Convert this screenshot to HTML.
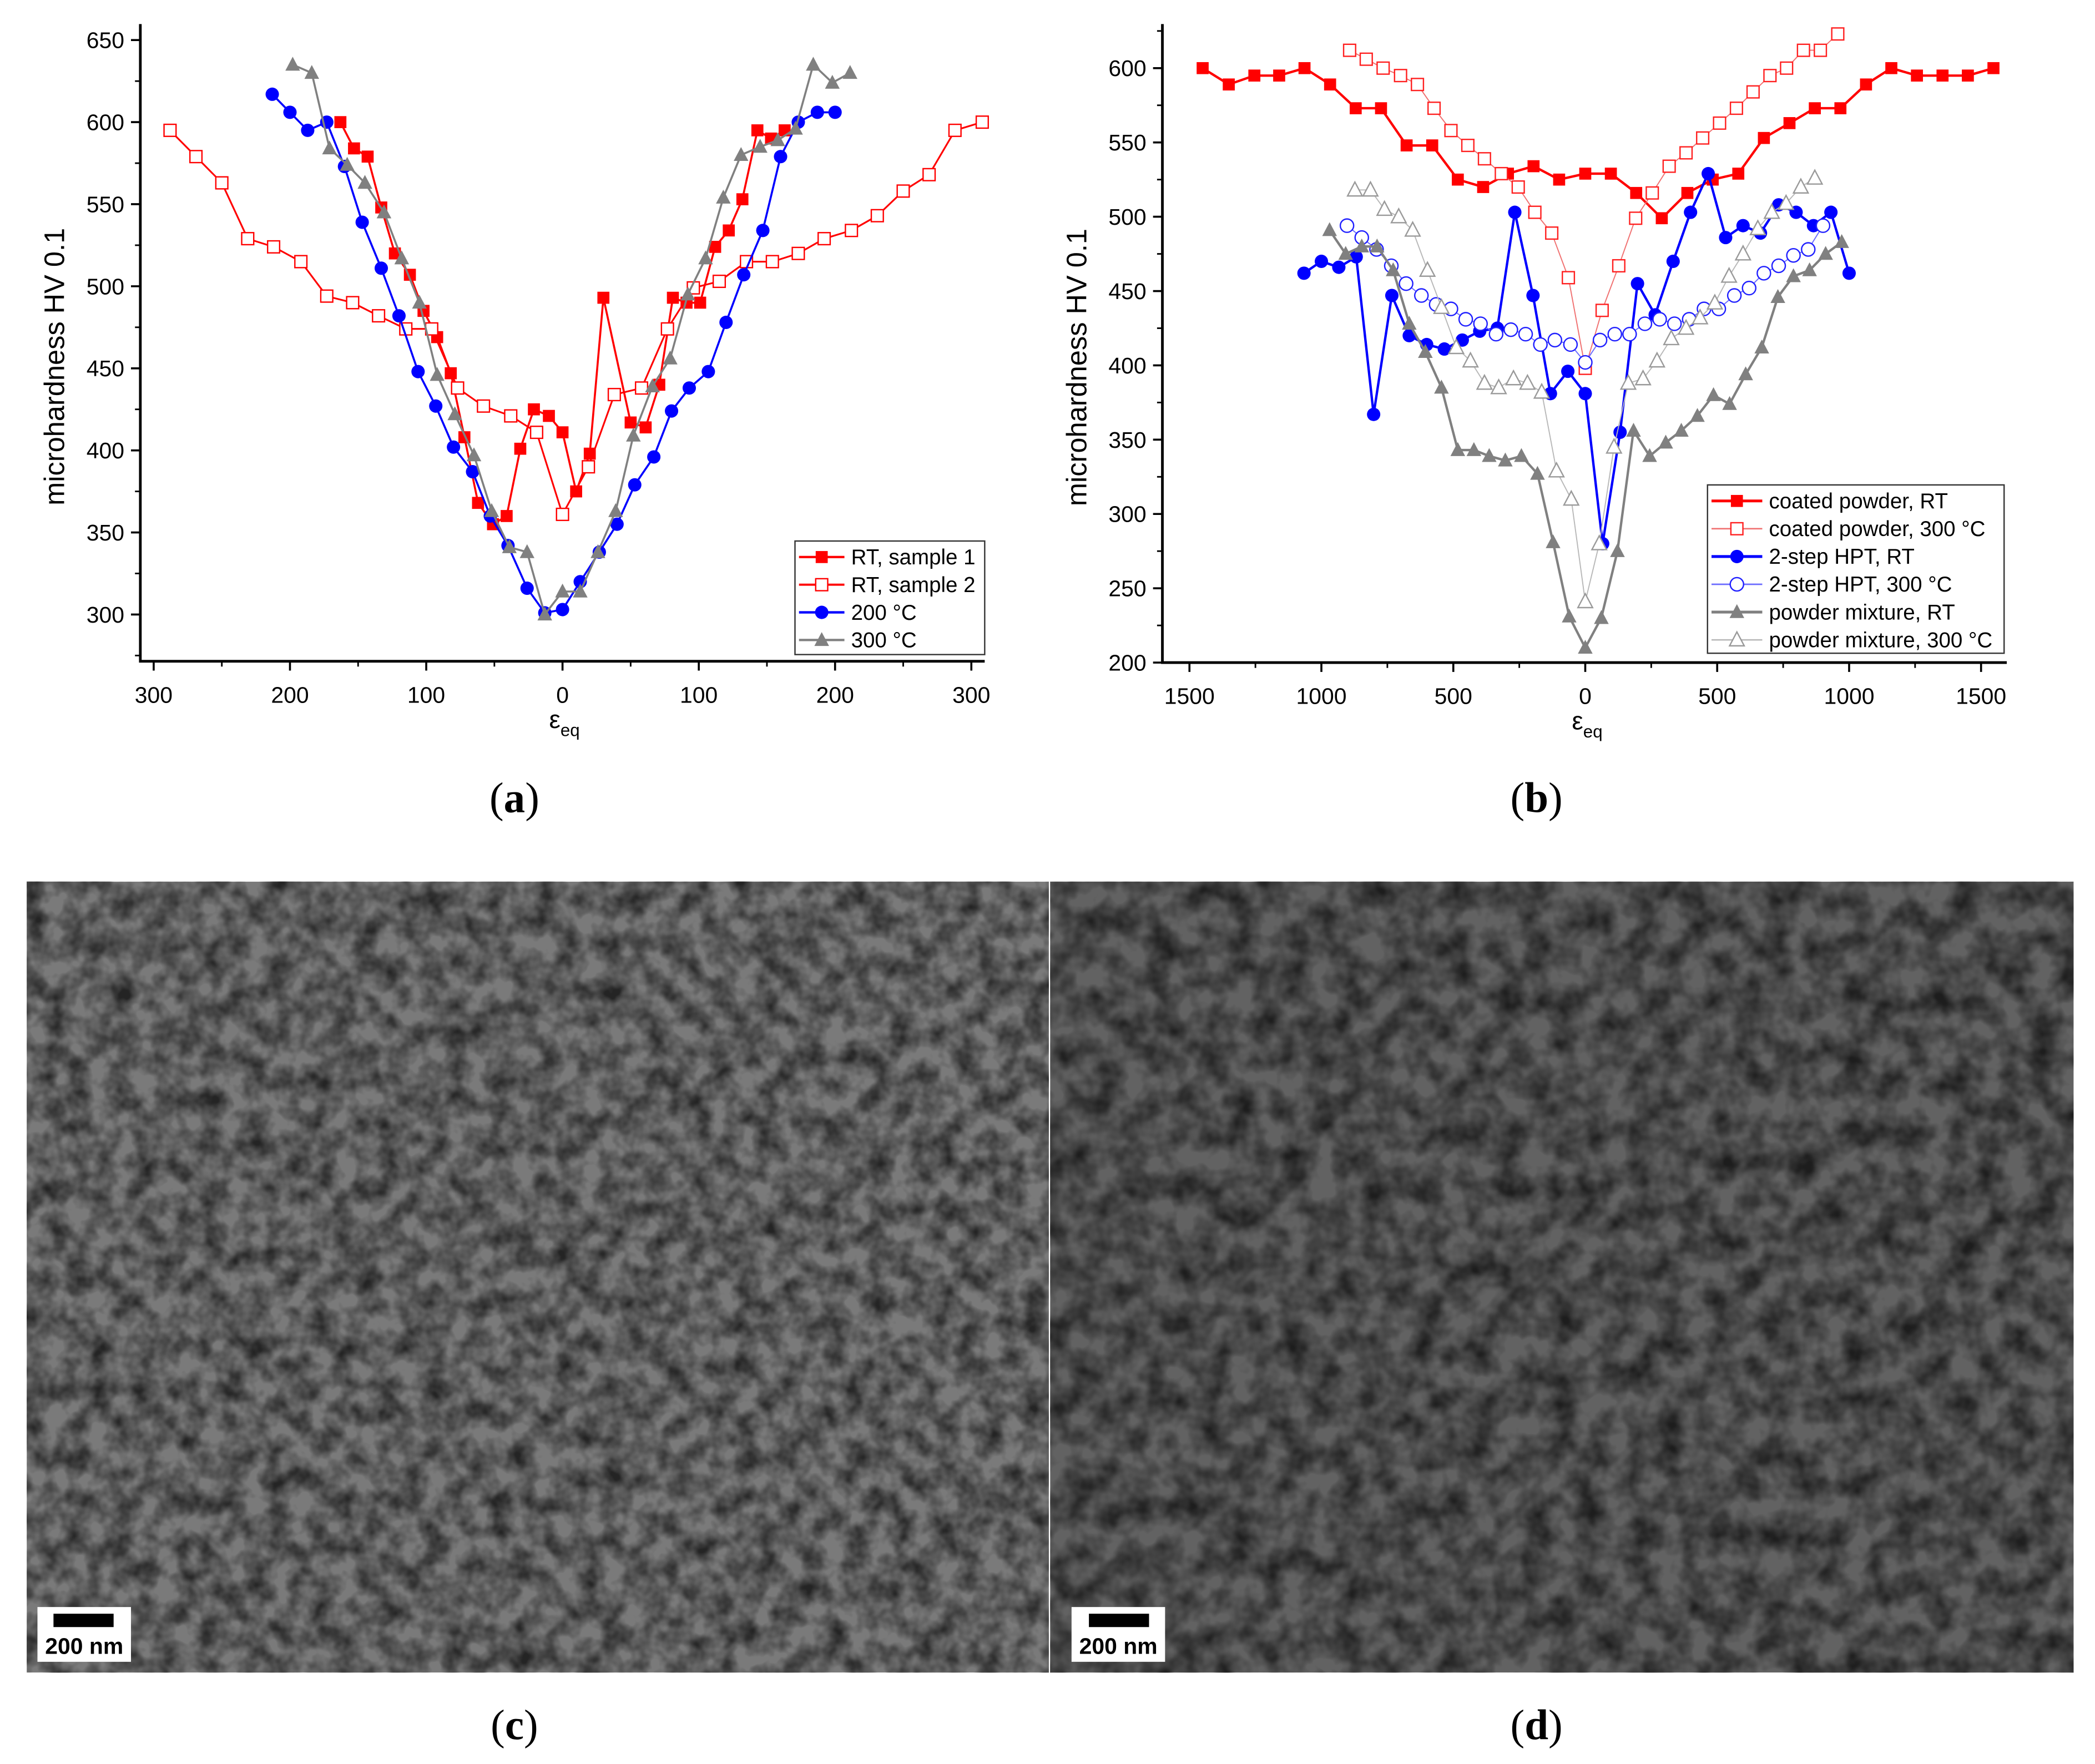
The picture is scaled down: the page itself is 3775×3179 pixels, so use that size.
<!DOCTYPE html>
<html><head><meta charset="utf-8">
<style>
html,body{margin:0;padding:0;background:#fff;}
svg{display:block;}
text{font-family:"Liberation Sans",sans-serif;}
text.serif{font-family:"Liberation Serif",serif;}
</style></head>
<body>
<svg id="fig" width="3775" height="3179" viewBox="0 0 1568 1320.5" xmlns="http://www.w3.org/2000/svg">
<defs>
<filter id="noiseC" x="0" y="0" width="100%" height="100%">
<feTurbulence type="fractalNoise" baseFrequency="0.06" numOctaves="3" seed="3"/>
<feColorMatrix type="matrix" values="0 0 0 0 0  0 0 0 0 0  0 0 0 0 0  0 0 0 1.8 -0.55"/>
</filter>
<filter id="noiseD" x="0" y="0" width="100%" height="100%">
<feTurbulence type="fractalNoise" baseFrequency="0.05" numOctaves="3" seed="8"/>
<feColorMatrix type="matrix" values="0 0 0 0 0  0 0 0 0 0  0 0 0 0 0  0 0 0 1.8 -0.55"/>
</filter>
</defs>
<rect x="0" y="0" width="1568" height="1320.5" fill="#fff"/>
<g id="chartA"></g>
<g id="chartB"></g>
<g>
<rect x="20" y="660" width="765" height="592" fill="#7a7a7a"/>
<rect x="20" y="660" width="765" height="592" fill="#222" filter="url(#noiseC)" opacity="0.7"/>
<rect x="28" y="1203" width="70" height="41" fill="#fff"/>
<rect x="40" y="1208" width="45" height="10" fill="#000"/>
<text x="63" y="1238" font-size="17" font-weight="bold" text-anchor="middle">200 nm</text>
</g>
<g>
<rect x="786" y="660" width="766" height="592" fill="#626262"/>
<rect x="786" y="660" width="766" height="592" fill="#1a1a1a" filter="url(#noiseD)" opacity="0.7"/>
<rect x="802" y="1203" width="70" height="41" fill="#fff"/>
<rect x="815" y="1208" width="45" height="10" fill="#000"/>
<text x="837" y="1238" font-size="17" font-weight="bold" text-anchor="middle">200 nm</text>
</g>
<text class="serif" x="385" y="608" font-size="32" text-anchor="middle">(<tspan font-weight="bold">a</tspan>)</text>
<text class="serif" x="1150" y="608" font-size="32" text-anchor="middle">(<tspan font-weight="bold">b</tspan>)</text>
<text class="serif" x="385" y="1302" font-size="32" text-anchor="middle">(<tspan font-weight="bold">c</tspan>)</text>
<text class="serif" x="1150" y="1302" font-size="32" text-anchor="middle">(<tspan font-weight="bold">d</tspan>)</text>
</svg>
<script>
// ---------- Chart (a) data ----------
const aRT1X=[-163,-153,-143,-133,-123,-112,-102,-92,-82,-72,-62,-51,-41,-31,-21,-10,0,10,20,30,50,61,71,81,91,101,112,122,132,143,153,163];
const aRT1Y=[600,584,579,548,520,507,485,469,447,408,368,355,360,401,425,421,411,375,398,493,417,414,440,493,490,490,524,534,553,595,590,595];
const aRT2X=[-288,-269,-250,-231,-212,-192,-173,-154,-135,-115,-96,-77,-58,-38,-19,0,19,38,58,77,96,115,135,154,173,192,212,231,250,269,288,308];
const aRT2Y=[595,579,563,529,524,515,494,490,482,474,474,438,427,421,411,361,390,434,438,474,499,503,515,515,520,529,534,543,558,568,595,600];
const a200X=[-213,-200,-187,-173,-160,-147,-133,-120,-106,-93,-80,-66,-53,-40,-26,-13,0,13,27,40,53,67,80,93,107,120,133,147,160,173,187,200];
const a200Y=[617,606,595,600,573,539,511,482,448,427,402,387,360,342,316,301,303,320,338,355,379,396,424,438,448,478,507,534,579,600,606,606];
const a300X=[-198,-184,-171,-158,-145,-131,-118,-105,-92,-79,-65,-52,-39,-26,-13,0,13,26,39,52,66,79,92,105,118,131,145,158,171,184,198,211];
const a300Y=[635,630,584,574,563,545,517,490,446,422,397,363,341,338,300,314,314,338,363,409,439,456,495,517,554,580,585,589,596,635,624,630];
const aXTicks=["300","200","100","0","100","200","300"];
const aXTickVals=[-300,-200,-100,0,100,200,300];
const aYTicks=[300,350,400,450,500,550,600,650];
// ---------- Chart (b) data ----------
const bCRTX=[-1450,-1351,-1254,-1160,-1064,-967,-870,-774,-677,-580,-483,-387,-293,-196,-99,0,97,193,290,387,483,580,677,774,870,967,1064,1160,1257,1354,1450,1547];
const bCRTY=[600,589,595,595,600,589,573,573,548,548,525,520,529,534,525,529,529,516,499,516,525,529,553,563,573,573,589,600,595,595,595,600];
const bC300X=[-893,-830,-766,-700,-636,-573,-509,-445,-382,-318,-254,-191,-127,-64,0,64,127,191,254,318,382,445,509,573,636,700,763,827,891,957];
const bC300Y=[612,606,600,595,589,573,558,548,539,529,520,503,489,459,398,437,467,499,516,534,543,553,563,573,584,595,600,612,612,623];
const bHRTX=[-1066,-1000,-934,-868,-802,-733,-667,-601,-534,-466,-400,-333,-267,-198,-132,-66,0,66,132,198,265,333,399,466,532,598,664,733,799,865,931,1000];
const bHRTY=[462,470,466,473,367,447,420,414,411,417,423,425,503,447,381,396,381,280,355,455,434,470,503,529,486,494,489,508,503,494,503,462];
const bH300X=[-903,-847,-791,-735,-679,-621,-565,-509,-453,-397,-338,-282,-226,-170,-115,-56,0,56,112,168,226,282,338,394,450,506,565,621,677,733,789,845,901];
const bH300Y=[494,486,478,467,455,447,441,438,431,428,421,424,421,414,417,414,402,417,421,421,428,431,428,431,438,438,447,452,462,467,474,478,494];
const bPRTX=[-969,-908,-847,-789,-728,-667,-606,-545,-483,-422,-364,-303,-242,-181,-122,-61,0,61,122,183,244,305,364,425,486,547,608,669,730,789,850,911,972];
const bPRTY=[491,475,480,480,464,428,409,385,343,343,339,336,339,327,281,231,210,230,275,356,339,348,356,366,380,374,394,412,446,460,464,475,483];
const bP300X=[-873,-814,-761,-707,-654,-598,-545,-489,-435,-382,-328,-272,-219,-165,-109,-53,0,53,109,163,219,272,326,382,435,491,545,598,654,707,761,817,870];
const bP300Y=[518,518,505,500,491,464,439,412,403,388,385,391,388,382,329,310,241,280,345,388,391,403,418,425,432,442,460,475,492,503,509,520,526];
const bXTicks=["1500","1000","500","0","500","1000","1500"];
const bXTickVals=[-1500,-1000,-500,0,500,1000,1500];
const bYTicks=[200,250,300,350,400,450,500,550,600];

const NS="http://www.w3.org/2000/svg";
function mk(parent,tag,attrs){const e=document.createElementNS(NS,tag);for(const k in attrs)e.setAttribute(k,attrs[k]);parent.appendChild(e);return e;}

function marker(g,kind,x,y,color,open,s){
  let e;
  if(kind==='sq'){e=mk(g,'rect',{x:x-s/2,y:y-s/2,width:s,height:s});}
  else if(kind==='ci'){e=mk(g,'circle',{cx:x,cy:y,r:s/2});}
  else {const h=s*0.9;e=mk(g,'polygon',{points:`${x},${y-h*0.6} ${x-s/2},${y+h*0.45} ${x+s/2},${y+h*0.45}`});}
  if(open){e.setAttribute('fill','#fff');e.setAttribute('stroke',color);e.setAttribute('stroke-width','1');}
  else{e.setAttribute('fill',color);}
  return e;
}

function drawChart(cfg){
  const g=document.getElementById(cfg.id);
  const X=v=>cfg.x0+(v-cfg.xa)*(cfg.x1-cfg.x0)/(cfg.xb-cfg.xa);
  const Y=v=>cfg.y0+(v-cfg.ya)*(cfg.y1-cfg.y0)/(cfg.yb-cfg.ya);
  const ax=mk(g,'path',{d:`M${cfg.L},${cfg.T} V${cfg.B} H${cfg.R}`,stroke:'#000','stroke-width':2,fill:'none'});
  
  cfg.yTicks.forEach((v,i)=>{
    const y=Y(v);
    const t=mk(g,'line',{x1:cfg.L-7,x2:cfg.L,y1:y,y2:y,stroke:'#000','stroke-width':1.5});
    
    const tx=mk(g,'text',{x:cfg.L-12,y:y+6,'font-size':17,'text-anchor':'end'});tx.textContent=v;
    
    const mv=v+cfg.yMinor;const my=Y(mv);
    if(my>cfg.T){mk(g,'line',{x1:cfg.L-4,x2:cfg.L,y1:my,y2:my,stroke:'#000','stroke-width':1.2});}
  });
  const bm=Y(cfg.yTicks[0]-cfg.yMinor);if(bm<cfg.B)mk(g,'line',{x1:cfg.L-4,x2:cfg.L,y1:bm,y2:bm,stroke:'#000','stroke-width':1.2});
  cfg.xTickVals.forEach((v,i)=>{
    const x=X(v);
    const t=mk(g,'line',{x1:x,x2:x,y1:cfg.B,y2:cfg.B+7,stroke:'#000','stroke-width':1.5});
    
    const tx=mk(g,'text',{x:x,y:cfg.B+31,'font-size':17,'text-anchor':'middle'});tx.textContent=cfg.xTicks[i];
    
    if(i<cfg.xTickVals.length-1){const mx=X(v+cfg.xMinor);mk(g,'line',{x1:mx,x2:mx,y1:cfg.B,y2:cfg.B+4,stroke:'#000','stroke-width':1.2});}
  });
  const yt=mk(g,'text',{x:0,y:0,'font-size':21,'text-anchor':'middle',transform:`translate(${cfg.L-57},${(cfg.T+cfg.B)/2+18}) rotate(-90)`});
  yt.textContent='microhardness HV 0.1';
  
  const xt=mk(g,'text',{x:X(0)-10,y:cfg.B+50,'font-size':19});
  
  xt.innerHTML='ε<tspan font-size="13" dy="6">eq</tspan>';
  cfg.series.forEach(s=>{
    const sg=mk(g,'g',{});
    
    const d=s.xs.map((v,i)=>(i?'L':'M')+X(v).toFixed(1)+','+Y(s.ys[i]).toFixed(1)).join(' ');
    const p=mk(sg,'path',{d:d,stroke:s.line,'stroke-width':s.lw,fill:'none'});
    
    s.xs.forEach((v,i)=>{
      const m=marker(sg,s.kind,X(v),Y(s.ys[i]),s.color,s.open,s.size);
      
      
    });
  });
  const lg=mk(g,'g',{});
  
  const lb=cfg.legend;
  mk(lg,'rect',{x:lb.x,y:lb.y,width:lb.w,height:lb.h,fill:'#fff',stroke:'#333','stroke-width':1});
  cfg.series.forEach((s,i)=>{
    const yy=lb.y+12+i*lb.dy;
    const e=mk(lg,'g',{});
    
    mk(e,'line',{x1:lb.x+3,x2:lb.x+3+lb.ll,y1:yy,y2:yy,stroke:s.line,'stroke-width':s.lw+0.3});
    marker(e,s.kind,lb.x+3+lb.ll/2,yy,s.color,s.open,s.size);
    const t=mk(e,'text',{x:lb.x+lb.ll+8,y:yy+5.5,'font-size':16});t.textContent=s.label;
  });
}

drawChart({id:'chartA',L:105,R:737,T:18,B:495,
  xa:-300,xb:300,x0:115,x1:727,ya:300,yb:650,y0:460,y1:30,
  yTicks:aYTicks,yMinor:25,xTicks:aXTicks,xTickVals:aXTickVals,xMinor:50,
  legend:{x:595,y:405,w:142,h:85,dy:20.7,ll:34},
  series:[
    {name:'rt-sample-1',label:'RT, sample 1',xs:aRT1X,ys:aRT1Y,color:'#ff0000',line:'#ff0000',lw:1.5,kind:'sq',open:false,size:9},
    {name:'rt-sample-2',label:'RT, sample 2',xs:aRT2X,ys:aRT2Y,color:'#ff0000',line:'#ff0000',lw:1.3,kind:'sq',open:true,size:9},
    {name:'200c',label:'200 °C',xs:a200X,ys:a200Y,color:'#0000ff',line:'#0000ff',lw:1.5,kind:'ci',open:false,size:10},
    {name:'300c',label:'300 °C',xs:a300X,ys:a300Y,color:'#808080',line:'#808080',lw:1.5,kind:'tr',open:false,size:11}
  ]});

drawChart({id:'chartB',L:870,R:1502,T:18,B:496,
  xa:-1000,xb:1000,x0:989,x1:1384,ya:200,yb:600,y0:496,y1:51,
  yTicks:bYTicks,yMinor:25,xTicks:bXTicks,xTickVals:bXTickVals,xMinor:250,
  legend:{x:1278,y:363,w:222,h:126,dy:20.8,ll:38},
  series:[
    {name:'coated-powder-rt',label:'coated powder, RT',xs:bCRTX,ys:bCRTY,color:'#ff0000',line:'#ff0000',lw:1.8,kind:'sq',open:false,size:9},
    {name:'coated-powder-300c',label:'coated powder, 300 °C',xs:bC300X,ys:bC300Y,color:'#ff2020',line:'#f07070',lw:0.8,kind:'sq',open:true,size:9},
    {name:'2-step-hpt-rt',label:'2-step HPT, RT',xs:bHRTX,ys:bHRTY,color:'#0000ff',line:'#0000ff',lw:1.8,kind:'ci',open:false,size:10},
    {name:'2-step-hpt-300c',label:'2-step HPT, 300 °C',xs:bH300X,ys:bH300Y,color:'#2020ff',line:'#6b6bff',lw:0.8,kind:'ci',open:true,size:10},
    {name:'powder-mixture-rt',label:'powder mixture, RT',xs:bPRTX,ys:bPRTY,color:'#808080',line:'#808080',lw:1.8,kind:'tr',open:false,size:11},
    {name:'powder-mixture-300c',label:'powder mixture, 300 °C',xs:bP300X,ys:bP300Y,color:'#9a9a9a',line:'#b8b8b8',lw:0.8,kind:'tr',open:true,size:11}
  ]});
</script>
</body></html>
